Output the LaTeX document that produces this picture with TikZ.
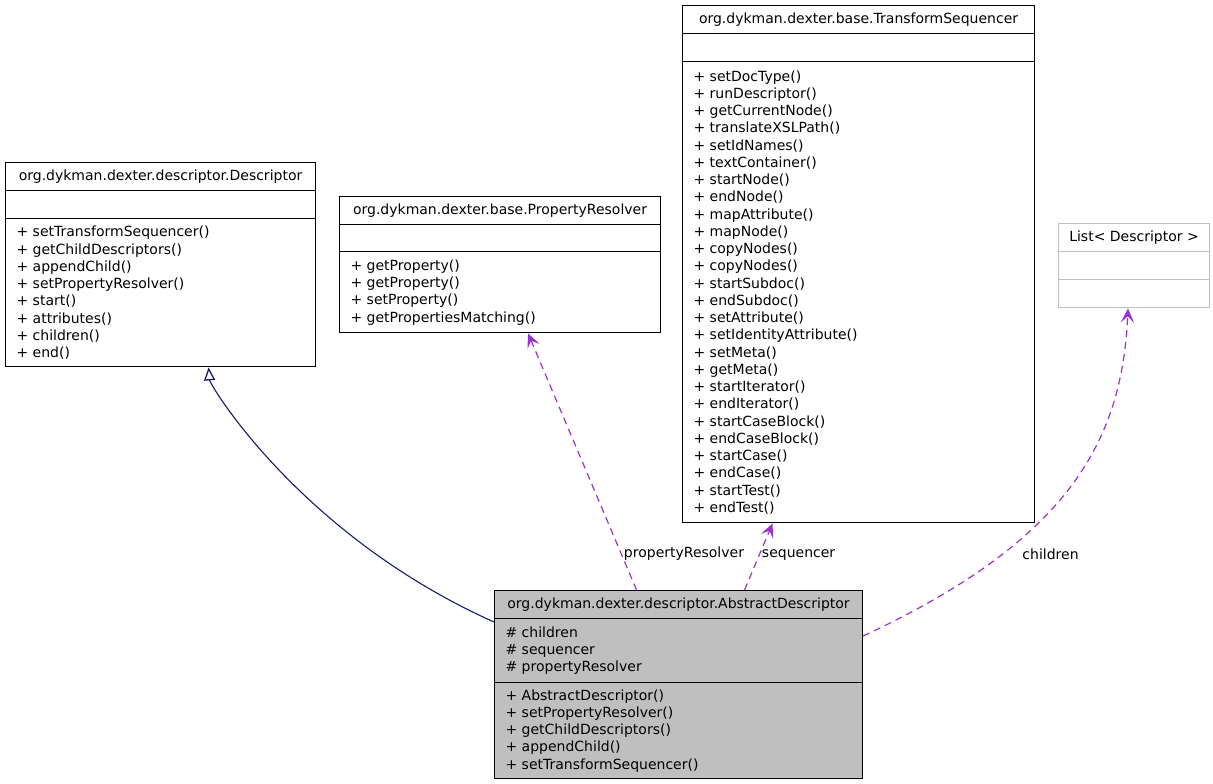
\documentclass[tikz,border=0pt]{standalone}
\usepackage{fontspec}
\setmainfont{DejaVu Sans}
\usepackage{xcolor}
\usepackage{tikz}
\usetikzlibrary{arrows.meta, shapes.multipart}
\definecolor{DLine}{HTML}{000000}
\definecolor{DNavy}{HTML}{191970}
\definecolor{DPurple}{HTML}{9A32CD}
\definecolor{DGrey}{HTML}{BFBFBF}
% title row and compartment of a class box
\newcommand{\ctitle}[2]{%
  \parbox[c][27pt][c]{#1pt}{\centering #2}}
\newcommand{\cbody}[3]{%
  \parbox[c][#2pt][c]{#1pt}{\raggedright\leftskip=11pt\baselineskip=17.25pt #3}}

\begin{document}
\begin{tikzpicture}[
  x=1pt, y=-1pt,
  font=\fontsize{14}{17.25}\selectfont,
  klass/.style={rectangle split, rectangle split parts=3, draw=DLine,
                line width=1.1pt, fill=white, inner sep=0pt,
                anchor=north west},
  extern/.style={klass, draw=DGrey},
  focus/.style={klass, fill=DGrey},
  inherit/.style={-{Triangle[open, length=13pt, width=11pt, fill=white,
                  line width=1.3pt]},
                  draw=DNavy, line width=1.1pt},
  uses/.style={-{Stealth[length=14pt, width=13pt, inset=6pt,
               line width=1.5pt]}, draw=DPurple,
               line width=1.2pt, dash pattern=on 7pt off 5pt},
  lbl/.style={inner sep=2pt},
]
\useasboundingbox (0,0) rectangle (1213,784);

% ── base classes ─────────────────────────────────────────────────────────
\node[klass] (desc) at (5,162)
  {\ctitle{310}{org.dykman.dexter.descriptor.Descriptor}
   \nodepart{second}\cbody{310}{27}{}
   \nodepart{third}\cbody{310}{147}{+ setTransformSequencer()\\
     + getChildDescriptors()\\ + appendChild()\\ + setPropertyResolver()\\
     + start()\\ + attributes()\\ + children()\\ + end()}};

\node[klass] (prop) at (339,196)
  {\ctitle{321}{org.dykman.dexter.base.PropertyResolver}
   \nodepart{second}\cbody{321}{26}{}
   \nodepart{third}\cbody{321}{80}{+ getProperty()\\ + getProperty()\\
     + setProperty()\\ + getPropertiesMatching()}};

\node[klass] (seq) at (682,5)
  {\ctitle{352}{org.dykman.dexter.base.TransformSequencer}
   \nodepart{second}\cbody{352}{27}{}
   \nodepart{third}\cbody{352}{460}{+ setDocType()\\ + runDescriptor()\\
     + getCurrentNode()\\ + translateXSLPath()\\ + setIdNames()\\
     + textContainer()\\ + startNode()\\ + endNode()\\ + mapAttribute()\\
     + mapNode()\\ + copyNodes()\\ + copyNodes()\\ + startSubdoc()\\
     + endSubdoc()\\ + setAttribute()\\ + setIdentityAttribute()\\
     + setMeta()\\ + getMeta()\\ + startIterator()\\ + endIterator()\\
     + startCaseBlock()\\ + endCaseBlock()\\ + startCase()\\ + endCase()\\
     + startTest()\\ + endTest()}};

\node[extern] (list) at (1058,223)
  {\ctitle{151}{List< Descriptor >}
   \nodepart{second}\cbody{151}{27}{}
   \nodepart{third}\cbody{151}{27}{}};

% ── the documented class ─────────────────────────────────────────────────
\node[focus] (abs) at (494,590)
  {\ctitle{368}{org.dykman.dexter.descriptor.AbstractDescriptor}
   \nodepart{second}\cbody{368}{63}{\# children\\ \# sequencer\\
     \# propertyResolver}
   \nodepart{third}\cbody{368}{95}{+ AbstractDescriptor()\\
     + setPropertyResolver()\\ + getChildDescriptors()\\ + appendChild()\\
     + setTransformSequencer()}};

% ── relations ────────────────────────────────────────────────────────────
\draw[inherit] ([yshift=-32pt]abs.north west)
  .. controls (300,535) and (210,385) .. ([xshift=48pt]desc.south);

\draw[uses] ([xshift=-42pt]abs.north) -- ([xshift=28pt]prop.south)
  node[lbl, pos=0.14, right] {propertyResolver};
\draw[uses] ([xshift=66pt]abs.north) -- ([xshift=-86pt]seq.south)
  node[lbl, pos=0.53, right] {sequencer};
\draw[uses] ([yshift=-46pt]abs.north east)
  .. controls (1070,540) and (1122,440) .. ([xshift=-6pt]list.south)
  node[lbl, pos=0.28, right=17pt] {children};

\end{tikzpicture}
\end{document}
